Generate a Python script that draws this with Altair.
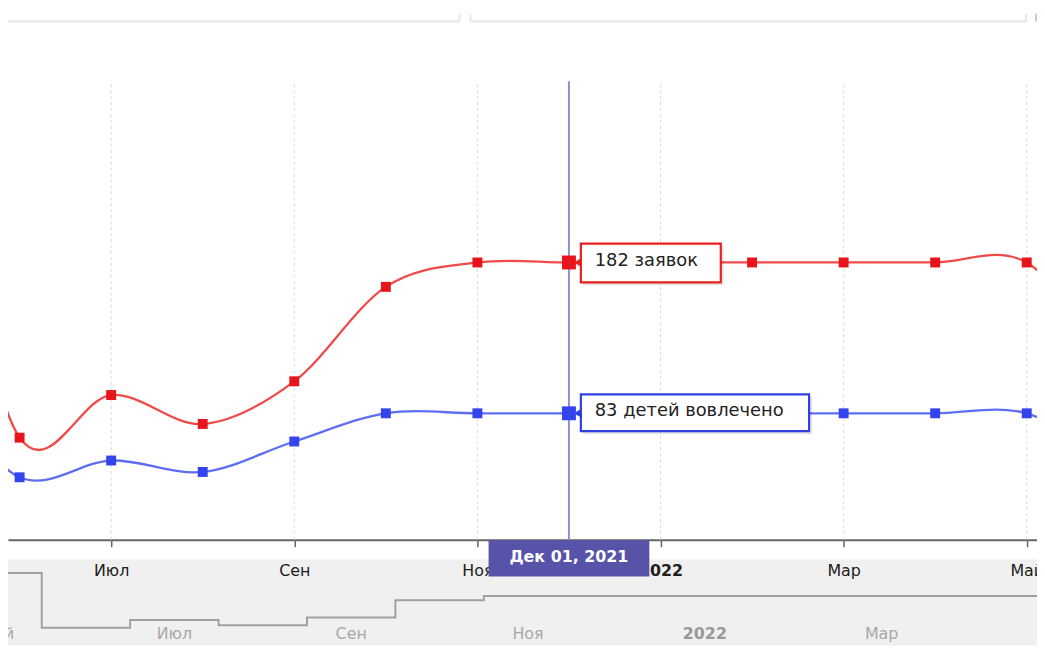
import json
import altair as alt
import pandas as pd

# ---------------- data ----------------
months = ["2021-04", "2021-05", "2021-06", "2021-07", "2021-08", "2021-09",
          "2021-10", "2021-11", "2021-12", "2022-01", "2022-02", "2022-03",
          "2022-04", "2022-05", "2022-06", "2022-07"]
requests = [265, 265, 67, 95, 76, 104, 166, 182, 182, 182, 182, 182, 182, 182, 115, 115]
children = [103, 103, 41, 52, 44.5, 64.5, 83, 83, 83, 83, 83, 83, 83, 83, 50, 50]
month_labels = ["Апр", "Май", "Июн", "Июл", "Авг", "Сен", "Окт", "Ноя", "Дек",
                "2022", "Фев", "Мар", "Апр", "Май", "Июн", "Июл"]
tick_months = ["2021-07", "2021-09", "2021-11", "2022-01", "2022-03", "2022-05"]
nav_label_months = ["2021-05", "2021-07", "2021-09", "2021-11", "2022-01", "2022-03"]
series_names = ["заявок", "детей вовлечено"]
cursor_month = "2021-12"
cursor_label = "Дек 01, 2021"
value_axis_top = 301


def month_index(m):
    y, mo = m.split("-")
    return (int(y) - 2021) * 12 + int(mo) - 6


idx = [month_index(m) for m in months]
first_idx = idx[0]
labels_expr = json.dumps(month_labels, ensure_ascii=False)
year_idx = month_index("2022-01")

W, H = 1037, 533.4          # main plot area
PAD_BOTTOM = 106.6          # room for the axis and the navigator strip
FONT = "DejaVu Sans"

main_x = alt.Scale(domain=[-0.1268, 11.112], nice=False, zero=False)
main_y = alt.Scale(domain=[0, 347.4], nice=False, zero=False)
nav_x = alt.Scale(domain=[-0.3816, 11.257], nice=False, zero=False)
nav_y = alt.Scale(domain=[385.6, 2304.3], nice=False, zero=False)

axis_x = alt.Axis(
    values=[month_index(m) for m in tick_months],
    labelExpr=f"{labels_expr}[datum.value - ({first_idx})]",
    orient="bottom", title=None, grid=False, domain=True, ticks=True, labels=True,
    domainColor="#666666", domainWidth=2, tickColor="#666666", tickSize=7, tickWidth=1.5,
    labelColor="#222222", labelFontSize=16, labelFont=FONT, labelPadding=16,
    labelFlush=False, labelOverlap=False,
    labelFontWeight={"condition": {"test": f"datum.value == {year_idx}", "value": "bold"}, "value": "normal"},
)

X = alt.X("idx:Q", scale=main_x, axis=axis_x)
Y = alt.Y("value:Q", scale=main_y, axis=None)
YB = alt.Y("base:Q", scale=main_y, axis=None)

dummy = pd.DataFrame({"a": [0]})


def ui_rule(x1, x2, y1, y2, color="#e6e8eb", w=2):
    return alt.Chart(dummy).mark_rule(color=color, strokeWidth=w).encode(
        x=alt.value(x1), x2=alt.value(x2), y=alt.value(y1), y2=alt.value(y2))


# ---------------- navigator ----------------
nav_df = pd.DataFrame({"idx": idx, "value": requests})
nav_lab = pd.DataFrame({
    "idx": [month_index(m) + 0.5 for m in nav_label_months],
    "label": [month_labels[month_index(m) - first_idx] for m in nav_label_months],
})
NX = alt.X("idx:Q", scale=nav_x, axis=None)
nav_bg = alt.Chart(dummy).mark_rect(fill="#000000", fillOpacity=0.059).encode(
    x=alt.value(0), x2=alt.value(W), y=alt.value(553), y2=alt.value(H + PAD_BOTTOM))
nav_line = alt.Chart(nav_df).mark_line(
    interpolate="step-after", color="#a0a0a0", strokeWidth=2).encode(
    x=NX, y=alt.Y("value:Q", scale=nav_y, axis=None))
nav_text_n = alt.Chart(nav_lab).transform_filter("datum.label != '2022'").mark_text(
    fontSize=16, font=FONT, color="#a8a8a8", baseline="middle", align="center").encode(
    x=NX, y=alt.value(628.7), text="label:N")
nav_text_b = alt.Chart(nav_lab).transform_filter("datum.label == '2022'").mark_text(
    fontSize=16, font=FONT, color="#999999", fontWeight="bold", baseline="middle", align="center").encode(
    x=NX, y=alt.value(628.7), text="label:N")
nav = alt.layer(nav_bg, nav_line, nav_text_n, nav_text_b)

# ---------------- main chart ----------------
grid_df = pd.DataFrame({"idx": [month_index(m) for m in tick_months], "base": 0, "top": value_axis_top})
cursor_idx = month_index(cursor_month)
cursor_df = pd.DataFrame({"idx": [cursor_idx], "base": [0], "top": [value_axis_top], "label": [cursor_label]})

grid = alt.Chart(grid_df).mark_rule(color="#d9d9d9", strokeWidth=1, strokeDash=[3, 3]).encode(
    x=X, y=YB, y2="top:Q")
cursor_rule = alt.Chart(cursor_df).mark_rule(color="#8e8fdc", strokeWidth=2).encode(
    x=X, y=YB, y2="top:Q")

layers = [grid, cursor_rule]
styles = [
    # name, values, line colour, marker colour, box colour, box width, y offsets, text dy
    (series_names[0], requests, "#f04a4a", "#e8141c", "#e52020", 153, -19, 20, -1),
    (series_names[1], children, "#5e6ef2", "#3344ee", "#3040e0", 242, -19, 18, -2),
]
tooltip_layers = []
for name, vals, lc, mc, bc, bw, yo1, yo2, tdy in styles:
    d = pd.DataFrame({"idx": idx, "value": vals, "month": months})
    d["label"] = [f"{v:g} {name}" for v in vals]
    base = alt.Chart(d)
    layers.append(base.mark_line(interpolate="cardinal", color=lc, strokeWidth=2.3, clip=True).encode(x=X, y=Y))
    layers.append(base.mark_point(shape="square", filled=True, size=100, color=mc, opacity=1, clip=True).encode(x=X, y=Y))
    cur = base.transform_filter(f"datum.month == '{cursor_month}'")
    tooltip_layers += [
        cur.mark_rect(fill="#000000", fillOpacity=0.10, xOffset=14, x2Offset=bw + 3,
                      yOffset=yo1 + 2, y2Offset=yo2 + 3).encode(x=X, x2="idx:Q", y=Y, y2="value:Q"),
        cur.mark_rect(fill="white", stroke=bc, strokeWidth=2.2, xOffset=12, x2Offset=bw,
                      yOffset=yo1, y2Offset=yo2).encode(x=X, x2="idx:Q", y=Y, y2="value:Q"),
        cur.mark_point(shape="triangle-left", filled=True, size=90, color=bc, opacity=1, xOffset=9).encode(x=X, y=Y),
        cur.mark_point(shape="square", filled=True, size=196, color=mc, opacity=1).encode(x=X, y=Y),
        cur.mark_text(align="left", baseline="middle", dx=26, dy=tdy, fontSize=18, font=FONT,
                      color="#222222").encode(x=X, y=Y, text="label:N"),
    ]
layers += tooltip_layers

cursor_box = alt.Chart(cursor_df).mark_rect(fill="#5753a9", xOffset=-81, x2Offset=81, yOffset=0.5, y2Offset=37).encode(
    x=X, x2="idx:Q", y=YB, y2="base:Q")
cursor_text = alt.Chart(cursor_df).mark_text(
    color="white", fontSize=16, font=FONT, fontWeight="bold", align="center", baseline="middle", dy=17.5).encode(
    x=X, y=YB, text="label:N")
layers += [cursor_box, cursor_text]

main = alt.layer(*layers)

# ---------------- page chrome (input boxes at top) ----------------
deco = alt.layer(
    ui_rule(0, 455, 11, 11),
    ui_rule(455, 455, 3, 11),
    ui_rule(466, 1026, 11, 11),
    ui_rule(466, 466, 3, 11),
    ui_rule(1026, 1026, 3, 11),
    ui_rule(1036, 1036, 3, 11, color="#c9c6ee"),
)

chart = alt.layer(nav, main, deco).resolve_scale(x="independent", y="independent").properties(
    width=W, height=H, autosize=alt.AutoSizeParams(type="none"),
    padding={"left": 0, "top": 0, "right": 0, "bottom": PAD_BOTTOM},
).configure(font=FONT).configure_view(stroke=None, strokeWidth=0).configure_axis(
    domain=False, ticks=False, labels=False, grid=False
)

chart.save("out.html", embed_options={"renderer": "svg", "actions": False})
